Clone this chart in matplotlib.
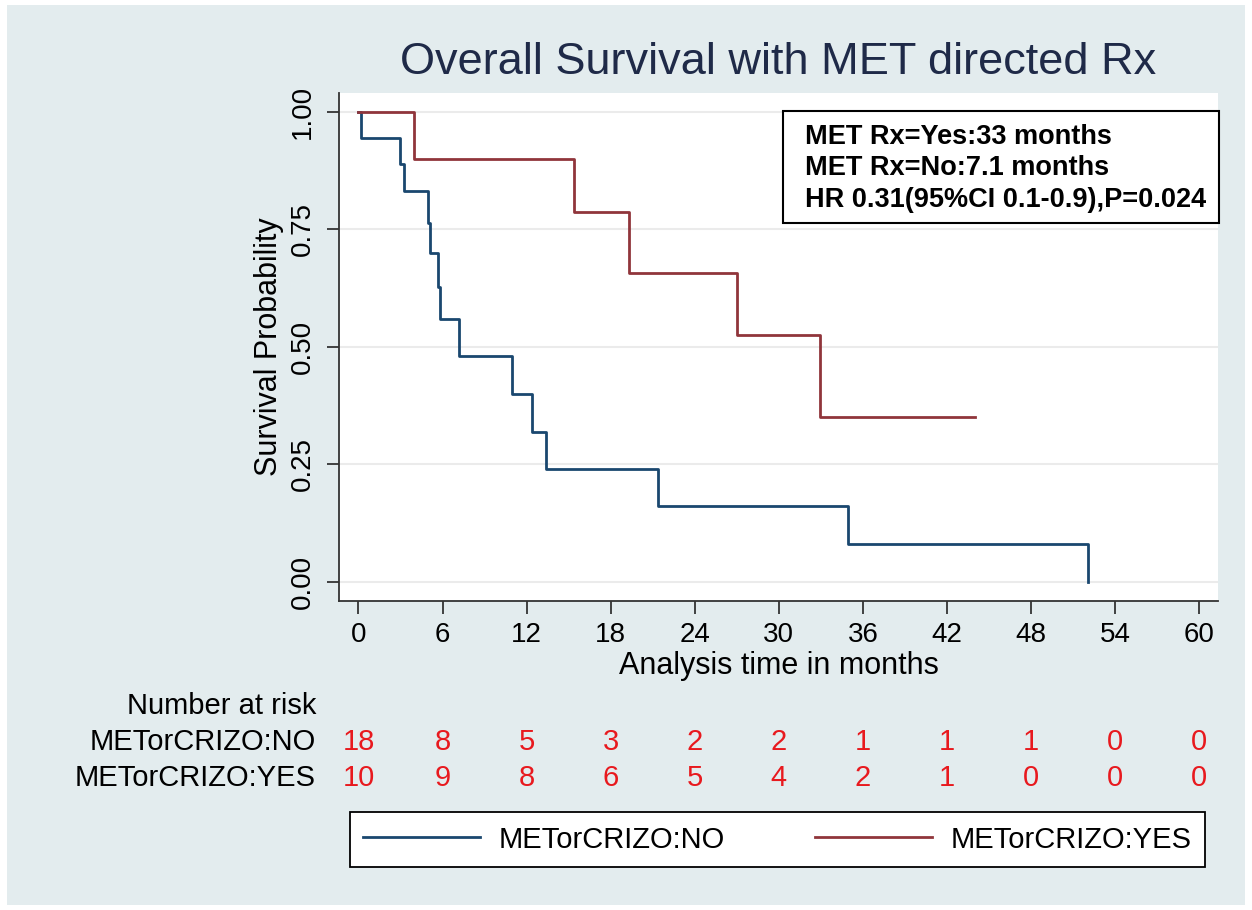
import matplotlib
matplotlib.use("Agg")
import matplotlib.pyplot as plt
import matplotlib.transforms as mtransforms
from matplotlib.patches import Rectangle
from matplotlib.lines import Line2D

plt.rcParams['font.family'] = ['Liberation Sans', 'DejaVu Sans']

# Kaplan-Meier step estimates (months, survival)
no_times = [0, 0.2, 2.94, 3.23, 4.94, 5.13, 5.65, 5.84, 7.2, 10.98, 12.42, 13.4, 21.4, 34.97, 52.05]
no_surv = [1.0, 0.944, 0.889, 0.83, 0.762, 0.699, 0.627, 0.558, 0.479, 0.399, 0.319, 0.239, 0.160, 0.080, 0.0]

yes_times = [0, 3.94, 15.35, 19.33, 27.0, 32.95, 43.97]
yes_surv = [1.0, 0.9, 0.786, 0.656, 0.524, 0.35, 0.35]

# number at risk table
risk_times = [0, 6, 12, 18, 24, 30, 36, 42, 48, 54, 60]
risk_no = [18, 8, 5, 3, 2, 2, 1, 1, 1, 0, 0]
risk_yes = [10, 9, 8, 6, 5, 4, 2, 1, 0, 0, 0]

group_labels = ["METorCRIZO:NO", "METorCRIZO:YES"]
stats_lines = ["MET Rx=Yes:33 months",
               "MET Rx=No:7.1 months",
               "HR 0.31(95%CI 0.1-0.9),P=0.024"]

blue = "#1a476f"
red = "#90353b"
bg = "#e3ecee"

W, H = 1252, 910
fig = plt.figure(figsize=(W / 100, H / 100), dpi=100, facecolor="white")
fig.patches.append(Rectangle((7 / W, 5 / H), 1238 / W, 900 / H, transform=fig.transFigure,
                             facecolor=bg, edgecolor="none", zorder=-10))

ax = fig.add_axes([339 / W, (H - 601) / H, (1218 - 339) / W, (601 - 92.7) / H])
ax.set_facecolor("white")
ax.set_xlim(-1.39, 61.35)
ax.set_ylim(-0.041, 1.040)

ax.step(no_times, no_surv, where="post", color=blue, lw=2, label=group_labels[0])
ax.step(yes_times, yes_surv, where="post", color=red, lw=2, label=group_labels[1])

ax.set_yticks([0, 0.25, 0.5, 0.75, 1.0])
ax.set_yticklabels(["0.00", "0.25", "0.50", "0.75", "1.00"], rotation=90, va="center")
ax.set_xticks(risk_times)
ax.grid(axis="y", color="#ebebeb", lw=1.5)
ax.set_axisbelow(True)
for s in ["top", "right"]:
    ax.spines[s].set_visible(False)
for s in ["left", "bottom"]:
    ax.spines[s].set_color("#333333")
    ax.spines[s].set_linewidth(1.3)
ax.tick_params(axis="both", length=9, width=1.3, color="#333333", labelsize=20)
ax.tick_params(axis="y", pad=8)
ax.tick_params(axis="x", pad=6)
ax.set_xlabel("Analysis time in months", fontsize=22, labelpad=2)
ax.set_ylabel("Survival Probability", fontsize=22, labelpad=4)

fig.text(778.5 / W, 1 - 63 / H, "Overall Survival with MET directed Rx",
         fontsize=32.5, color="#1f2a48", ha="center", va="center")

# stats box
fig.patches.append(Rectangle((783 / W, 1 - 223 / H), 436 / W, 112 / H, transform=fig.transFigure,
                             facecolor="white", edgecolor="black", lw=1.5, zorder=5))
for i, line in enumerate(stats_lines):
    fig.text(805 / W, 1 - (136.5 + 31.7 * i) / H, line, fontsize=19.5, fontweight="bold",
             ha="left", va="center", zorder=6)

# number at risk
trans = mtransforms.blended_transform_factory(ax.transData, fig.transFigure)
fig.text(316 / W, 1 - 706 / H, "Number at risk", fontsize=21, ha="right", va="center")
for row, (lab, counts) in enumerate(zip(group_labels, [risk_no, risk_yes])):
    yy = 1 - (742 + 36 * row) / H
    fig.text(316 / W, yy, lab, fontsize=21, ha="right", va="center")
    for t, n in zip(risk_times, counts):
        ax.text(t, yy, str(n), transform=trans, fontsize=21, color="#e8191e",
                ha="center", va="center", clip_on=False)

handles = [Line2D([], [], color=blue, lw=2), Line2D([], [], color=red, lw=2)]
leg = fig.legend(handles, group_labels, loc="center", ncol=2, mode="expand",
                 bbox_to_anchor=(350 / W, 1 - 868 / H, 855 / W, 57 / H), borderaxespad=0,
                 fontsize=21, frameon=True, fancybox=False, framealpha=1, facecolor="white",
                 handlelength=4, handletextpad=0.65, borderpad=0.45, columnspacing=2)
leg.get_frame().set_edgecolor("black")
leg.get_frame().set_linewidth(1.3)

fig.savefig("out.png", dpi=100, facecolor="white")
